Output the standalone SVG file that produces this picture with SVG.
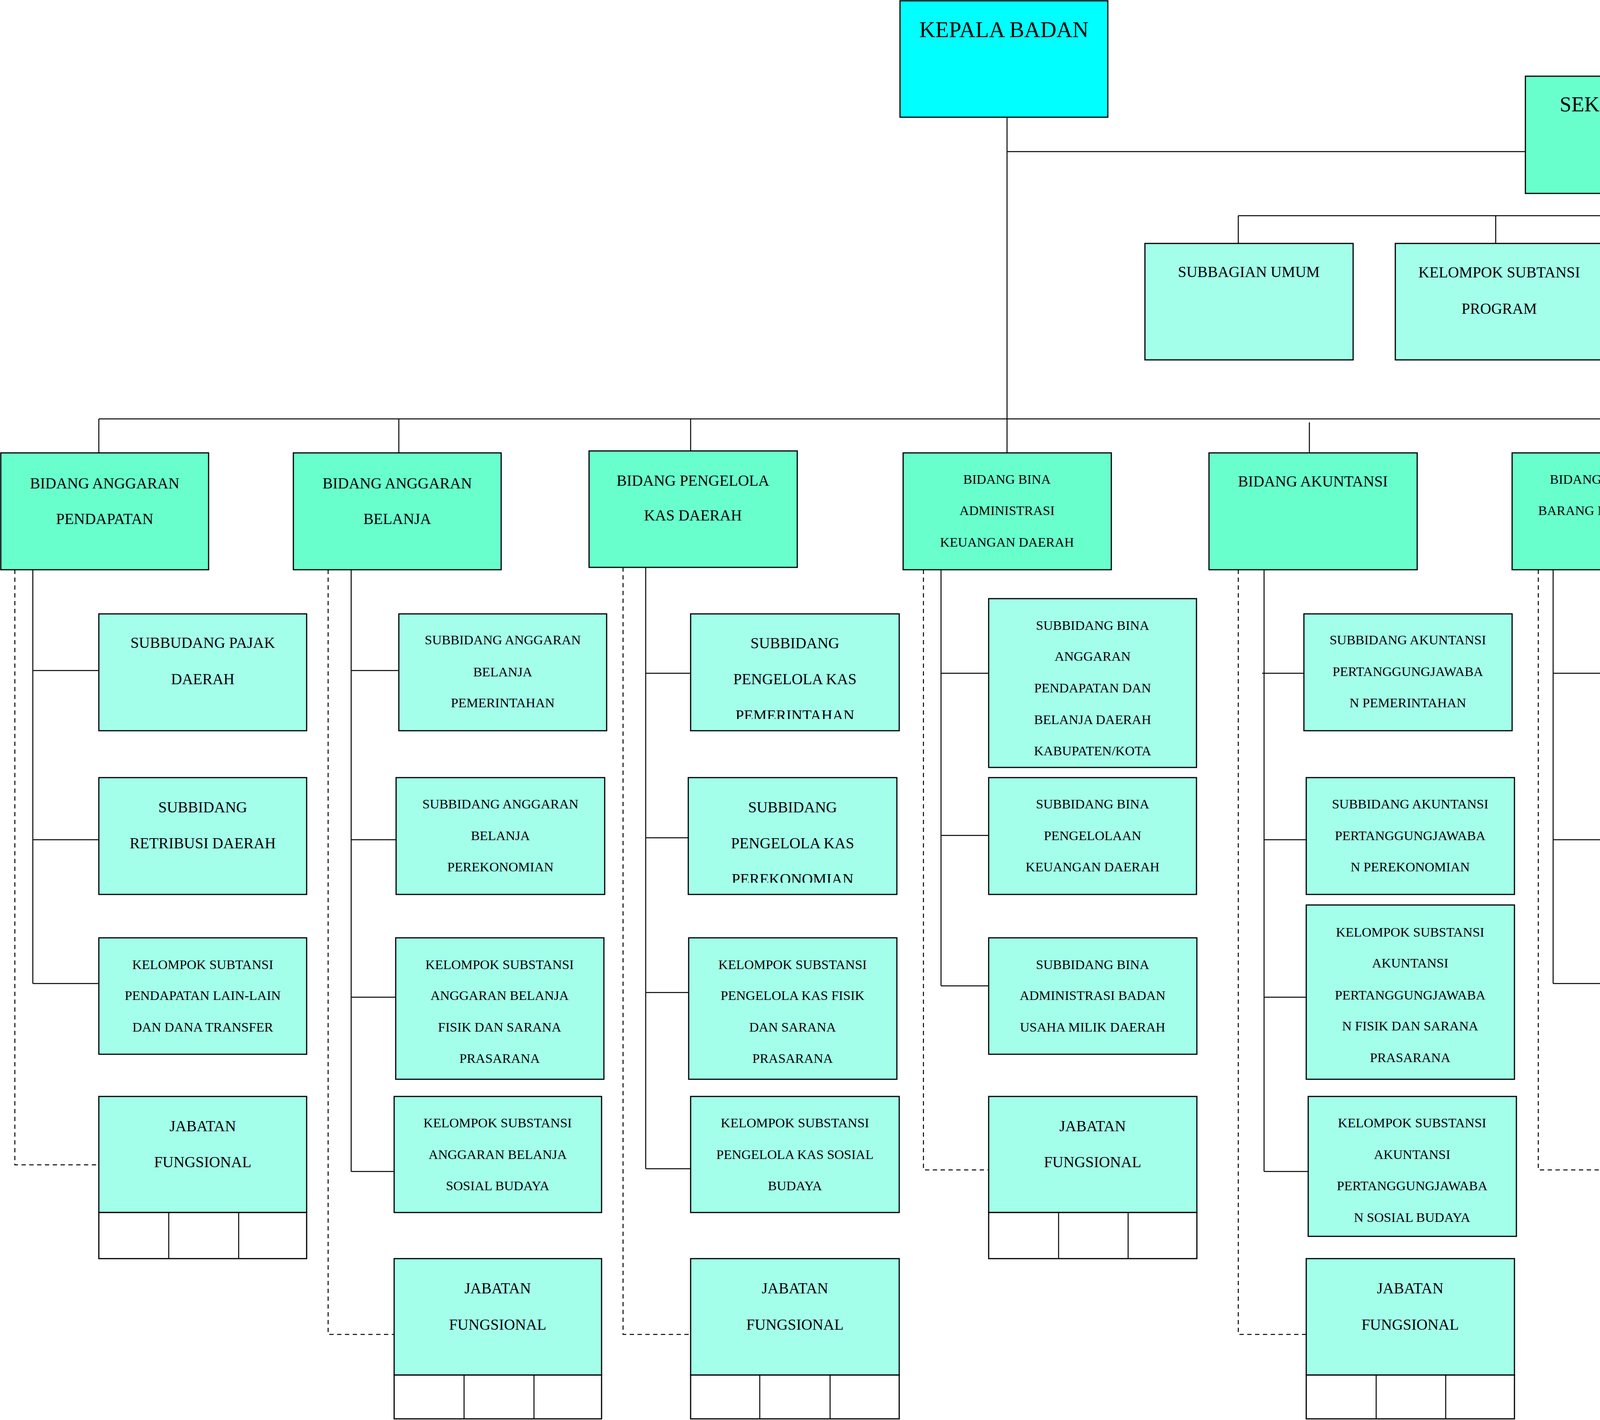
<svg xmlns="http://www.w3.org/2000/svg" width="5401" height="3634" viewBox="0 0 5401 3634">
<style>
rect{stroke:#000;stroke-width:3}
.k{fill:#00FFFF}
.b{fill:#69FFCC}
.s{fill:#A3FFEA}
.c{fill:#FFFFFF}
text{font-family:"Liberation Serif","Times New Roman",serif;text-anchor:middle;fill:#000}
.f57{font-size:57px}
.f54{font-size:54px}
.f39{font-size:39px}
.f34{font-size:34px}
.ln{stroke:#000;stroke-width:2.5;fill:none}
.da{stroke:#000;stroke-width:2.5;fill:none;stroke-dasharray:11 9}
</style>
<defs>
<clipPath id="clipKas1"><rect x="1760" y="1560" width="560" height="280" style="stroke:none"/></clipPath>
<clipPath id="clipKas2"><rect x="1750" y="1980" width="560" height="279" style="stroke:none"/></clipPath>
</defs>

<g id="connectors">
<path class="ln" d="M2578 300V1159M2578 388H3905M4144 495V552M3170 552H4489M3170 552V623M3829 552V623M4489 552V623"/>
<path class="da" d="M4489 552H5124V623"/>
<path class="ln" d="M253 1072H4907M253 1072V1159M1021 1072V1159M1768 1072V1154M3352 1081V1159M4144 1072V1159M4907 1072V1159"/>
<path class="ln" d="M84 1458V2517M84 1716H253M84 2149H253M84 2517H253"/>
<path class="da" d="M38 1458V2981H253"/>
<path class="ln" d="M899 1458V2998M899 1716H1021M899 2149H1014M899 2552H1013M899 2998H1009"/>
<path class="da" d="M840 1458V3415H1009"/>
<path class="ln" d="M1653 1452V2991M1653 1723H1768M1653 2144H1762M1653 2540H1763M1653 2991H1768"/>
<path class="da" d="M1595 1452V3415H1768"/>
<path class="ln" d="M2409 1458V2523M2409 1723H2531M2409 2138H2531M2409 2523H2531"/>
<path class="da" d="M2364 1458V2994H2531"/>
<path class="ln" d="M3236 1458V2998M3231 1723H3338M3236 2149H3344M3236 2552H3344M3236 2998H3349"/>
<path class="da" d="M3170 1458V3415H3344"/>
<path class="ln" d="M3976 1458V2517M3976 1723H4144M3976 2149H4144M3976 2517H4145"/>
<path class="da" d="M3938 1458V2994H4145"/>
</g>

<g id="kepala-badan"><rect class="k" x="2304" y="2" width="532" height="298"/><text class="f57" x="2570" y="95">KEPALA BADAN</text></g>
<g id="sekretariat"><rect class="b" x="3905" y="195" width="535" height="300"/><text class="f54" x="4172" y="285">SEKRETARIAT</text></g>

<g id="subbagian-umum"><rect class="s" x="2931" y="623" width="533" height="298"/><text class="f39" x="3197" y="709">SUBBAGIAN UMUM</text></g>
<g id="kelompok-program"><rect class="s" x="3572" y="623" width="533" height="298"/><text class="f39" x="3838" y="710">KELOMPOK SUBTANSI</text><text class="f39" x="3838" y="803">PROGRAM</text></g>
<g id="kelompok-keuangan"><rect class="s" x="4225" y="623" width="533" height="298"/><text class="f39" x="4491" y="710">KELOMPOK SUBTANSI</text><text class="f39" x="4491" y="803">KEUANGAN</text></g>
<g id="jabatan-sekretariat"><rect class="s" x="4866" y="623" width="533" height="298"/><rect class="c" x="4866" y="921" width="533" height="112"/><path class="ln" d="M5046 921V1033M5224 921V1033"/><text class="f39" x="5133" y="710">JABATAN</text><text class="f39" x="5133" y="803">FUNGSIONAL</text></g>

<g id="bidang-anggaran-pendapatan"><rect class="b" x="2" y="1159" width="532" height="299"/><text class="f39" x="268" y="1250">BIDANG ANGGARAN</text><text class="f39" x="268" y="1341">PENDAPATAN</text></g>
<g id="bidang-anggaran-belanja"><rect class="b" x="751" y="1159" width="532" height="299"/><text class="f39" x="1017" y="1250">BIDANG ANGGARAN</text><text class="f39" x="1017" y="1341">BELANJA</text></g>
<g id="bidang-pengelola-kas"><rect class="b" x="1508" y="1154" width="533" height="298"/><text class="f39" x="1774" y="1243">BIDANG PENGELOLA</text><text class="f39" x="1774" y="1332">KAS DAERAH</text></g>
<g id="bidang-bina"><rect class="b" x="2312" y="1159" width="533" height="299"/><text class="f34" x="2578" y="1238">BIDANG BINA</text><text class="f34" x="2578" y="1318">ADMINISTRASI</text><text class="f34" x="2578" y="1399">KEUANGAN DAERAH</text></g>
<g id="bidang-akuntansi"><rect class="b" x="3095" y="1159" width="533" height="299"/><text class="f39" x="3361" y="1245">BIDANG AKUNTANSI</text></g>
<g id="bidang-barang"><rect class="b" x="3871" y="1159" width="534" height="299"/><text class="f34" x="4138" y="1238">BIDANG PENGELOLA</text><text class="f34" x="4138" y="1318">BARANG MILIK DAERAH</text></g>
<g id="upt"><rect class="b" x="4639" y="1159" width="534" height="299"/><text class="f39" x="4906" y="1245">UPT</text></g>

<g id="subbudang-pajak"><rect class="s" x="253" y="1571" width="532" height="299"/><text class="f39" x="519" y="1658">SUBBUDANG PAJAK</text><text class="f39" x="519" y="1751">DAERAH</text></g>
<g id="subbidang-retribusi"><rect class="s" x="253" y="1990" width="532" height="299"/><text class="f39" x="519" y="2079">SUBBIDANG</text><text class="f39" x="519" y="2171">RETRIBUSI DAERAH</text></g>
<g id="kelompok-pendapatan"><rect class="s" x="253" y="2400" width="532" height="298"/><text class="f34" x="519" y="2480">KELOMPOK SUBTANSI</text><text class="f34" x="519" y="2559">PENDAPATAN LAIN-LAIN</text><text class="f34" x="519" y="2640">DAN DANA TRANSFER</text></g>
<g id="jabatan-pendapatan"><rect class="s" x="253" y="2806" width="532" height="297"/><rect class="c" x="253" y="3103" width="532" height="118"/><path class="ln" d="M432 3103V3221M611 3103V3221"/><text class="f39" x="519" y="2895">JABATAN</text><text class="f39" x="519" y="2987">FUNGSIONAL</text></g>

<g id="subbidang-belanja-pemerintahan"><rect class="s" x="1021" y="1571" width="532" height="299"/><text class="f34" x="1287" y="1649">SUBBIDANG ANGGARAN</text><text class="f34" x="1287" y="1731">BELANJA</text><text class="f34" x="1287" y="1810">PEMERINTAHAN</text></g>
<g id="subbidang-belanja-perekonomian"><rect class="s" x="1014" y="1990" width="534" height="299"/><text class="f34" x="1281" y="2069">SUBBIDANG ANGGARAN</text><text class="f34" x="1281" y="2150">BELANJA</text><text class="f34" x="1281" y="2230">PEREKONOMIAN</text></g>
<g id="kelompok-belanja-fisik"><rect class="s" x="1013" y="2400" width="533" height="362"/><text class="f34" x="1279" y="2480">KELOMPOK SUBSTANSI</text><text class="f34" x="1279" y="2559">ANGGARAN BELANJA</text><text class="f34" x="1279" y="2640">FISIK DAN SARANA</text><text class="f34" x="1279" y="2720">PRASARANA</text></g>
<g id="kelompok-belanja-sosial"><rect class="s" x="1009" y="2806" width="531" height="297"/><text class="f34" x="1274" y="2885">KELOMPOK SUBSTANSI</text><text class="f34" x="1274" y="2966">ANGGARAN BELANJA</text><text class="f34" x="1274" y="3046">SOSIAL BUDAYA</text></g>
<g id="jabatan-belanja"><rect class="s" x="1009" y="3221" width="531" height="298"/><rect class="c" x="1009" y="3519" width="531" height="112"/><path class="ln" d="M1188 3519V3631M1367 3519V3631"/><text class="f39" x="1274" y="3310">JABATAN</text><text class="f39" x="1274" y="3403">FUNGSIONAL</text></g>

<g id="subbidang-kas-pemerintahan"><rect class="s" x="1768" y="1571" width="534" height="299"/><text class="f39" x="2035" y="1659">SUBBIDANG</text><text class="f39" x="2035" y="1751">PENGELOLA KAS</text><text class="f39" x="2035" y="1844" clip-path="url(#clipKas1)">PEMERINTAHAN</text></g>
<g id="subbidang-kas-perekonomian"><rect class="s" x="1762" y="1990" width="534" height="299"/><text class="f39" x="2029" y="2079">SUBBIDANG</text><text class="f39" x="2029" y="2171">PENGELOLA KAS</text><text class="f39" x="2029" y="2263" clip-path="url(#clipKas2)">PEREKONOMIAN</text></g>
<g id="kelompok-kas-fisik"><rect class="s" x="1763" y="2400" width="533" height="362"/><text class="f34" x="2029" y="2480">KELOMPOK SUBSTANSI</text><text class="f34" x="2029" y="2559">PENGELOLA KAS FISIK</text><text class="f34" x="2029" y="2640">DAN SARANA</text><text class="f34" x="2029" y="2720">PRASARANA</text></g>
<g id="kelompok-kas-sosial"><rect class="s" x="1768" y="2806" width="534" height="297"/><text class="f34" x="2035" y="2885">KELOMPOK SUBSTANSI</text><text class="f34" x="2035" y="2966">PENGELOLA KAS SOSIAL</text><text class="f34" x="2035" y="3046">BUDAYA</text></g>
<g id="jabatan-kas"><rect class="s" x="1768" y="3221" width="534" height="298"/><rect class="c" x="1768" y="3519" width="534" height="112"/><path class="ln" d="M1945 3519V3631M2125 3519V3631"/><text class="f39" x="2035" y="3310">JABATAN</text><text class="f39" x="2035" y="3403">FUNGSIONAL</text></g>

<g id="subbidang-bina-anggaran"><rect class="s" x="2531" y="1532" width="532" height="432"/><text class="f34" x="2797" y="1612">SUBBIDANG BINA</text><text class="f34" x="2797" y="1691">ANGGARAN</text><text class="f34" x="2797" y="1772">PENDAPATAN DAN</text><text class="f34" x="2797" y="1853">BELANJA DAERAH</text><text class="f34" x="2797" y="1933">KABUPATEN/KOTA</text></g>
<g id="subbidang-bina-pengelolaan"><rect class="s" x="2531" y="1990" width="532" height="299"/><text class="f34" x="2797" y="2069">SUBBIDANG BINA</text><text class="f34" x="2797" y="2150">PENGELOLAAN</text><text class="f34" x="2797" y="2230">KEUANGAN DAERAH</text></g>
<g id="subbidang-bina-bumd"><rect class="s" x="2531" y="2400" width="533" height="298"/><text class="f34" x="2797" y="2480">SUBBIDANG BINA</text><text class="f34" x="2797" y="2559">ADMINISTRASI BADAN</text><text class="f34" x="2797" y="2640">USAHA MILIK DAERAH</text></g>
<g id="jabatan-bina"><rect class="s" x="2531" y="2806" width="533" height="297"/><rect class="c" x="2531" y="3103" width="533" height="118"/><path class="ln" d="M2710 3103V3221M2888 3103V3221"/><text class="f39" x="2797" y="2895">JABATAN</text><text class="f39" x="2797" y="2987">FUNGSIONAL</text></g>

<g id="subbidang-akuntansi-pemerintahan"><rect class="s" x="3338" y="1571" width="533" height="299"/><text class="f34" x="3604" y="1649">SUBBIDANG AKUNTANSI</text><text class="f34" x="3604" y="1730">PERTANGGUNGJAWABA</text><text class="f34" x="3604" y="1810">N PEMERINTAHAN</text></g>
<g id="subbidang-akuntansi-perekonomian"><rect class="s" x="3344" y="1990" width="533" height="299"/><text class="f34" x="3610" y="2069">SUBBIDANG AKUNTANSI</text><text class="f34" x="3610" y="2150">PERTANGGUNGJAWABA</text><text class="f34" x="3610" y="2230">N PEREKONOMIAN</text></g>
<g id="kelompok-akuntansi-fisik"><rect class="s" x="3344" y="2316" width="533" height="446"/><text class="f34" x="3610" y="2397">KELOMPOK SUBSTANSI</text><text class="f34" x="3610" y="2476">AKUNTANSI</text><text class="f34" x="3610" y="2558">PERTANGGUNGJAWABA</text><text class="f34" x="3610" y="2637">N FISIK DAN SARANA</text><text class="f34" x="3610" y="2718">PRASARANA</text></g>
<g id="kelompok-akuntansi-sosial"><rect class="s" x="3349" y="2806" width="533" height="358"/><text class="f34" x="3615" y="2885">KELOMPOK SUBSTANSI</text><text class="f34" x="3615" y="2966">AKUNTANSI</text><text class="f34" x="3615" y="3046">PERTANGGUNGJAWABA</text><text class="f34" x="3615" y="3127">N SOSIAL BUDAYA</text></g>
<g id="jabatan-akuntansi"><rect class="s" x="3344" y="3221" width="533" height="298"/><rect class="c" x="3344" y="3519" width="533" height="112"/><path class="ln" d="M3523 3519V3631M3701 3519V3631"/><text class="f39" x="3610" y="3310">JABATAN</text><text class="f39" x="3610" y="3403">FUNGSIONAL</text></g>

<g id="subbidang-perencanaan"><rect class="s" x="4144" y="1571" width="533" height="352"/><text class="f34" x="4410" y="1649">SUBBIDANG</text><text class="f34" x="4410" y="1730">PERENCANAAN DAN</text><text class="f34" x="4410" y="1810">PENATAUSAHAAN</text><text class="f34" x="4410" y="1891">BRANG MILIK DAERAH</text></g>
<g id="subbidang-pendayagunaan"><rect class="s" x="4144" y="1990" width="533" height="365"/><text class="f34" x="4410" y="2069">SUBBIDANG</text><text class="f34" x="4410" y="2150">PENDAYAGUNAAN DAN</text><text class="f34" x="4410" y="2230">PENGAMANAN BARANG</text><text class="f34" x="4410" y="2310">MILIK DAERAH</text></g>
<g id="kelompok-pemindahtanganan"><rect class="s" x="4145" y="2400" width="531" height="362"/><text class="f34" x="4410" y="2480">KELOMPOK SUBSTANSI</text><text class="f34" x="4410" y="2559">PEMINDAHTANGANAN</text><text class="f34" x="4410" y="2640">DAN PENGHAPUSAN</text><text class="f34" x="4410" y="2720">BARANG MILIK DAERAH</text></g>
<g id="jabatan-barang"><rect class="s" x="4145" y="2806" width="531" height="297"/><rect class="c" x="4145" y="3103" width="531" height="118"/><path class="ln" d="M4323 3103V3221M4502 3103V3221"/><text class="f39" x="4410" y="2895">JABATAN</text><text class="f39" x="4410" y="2987">FUNGSIONAL</text></g>
</svg>
